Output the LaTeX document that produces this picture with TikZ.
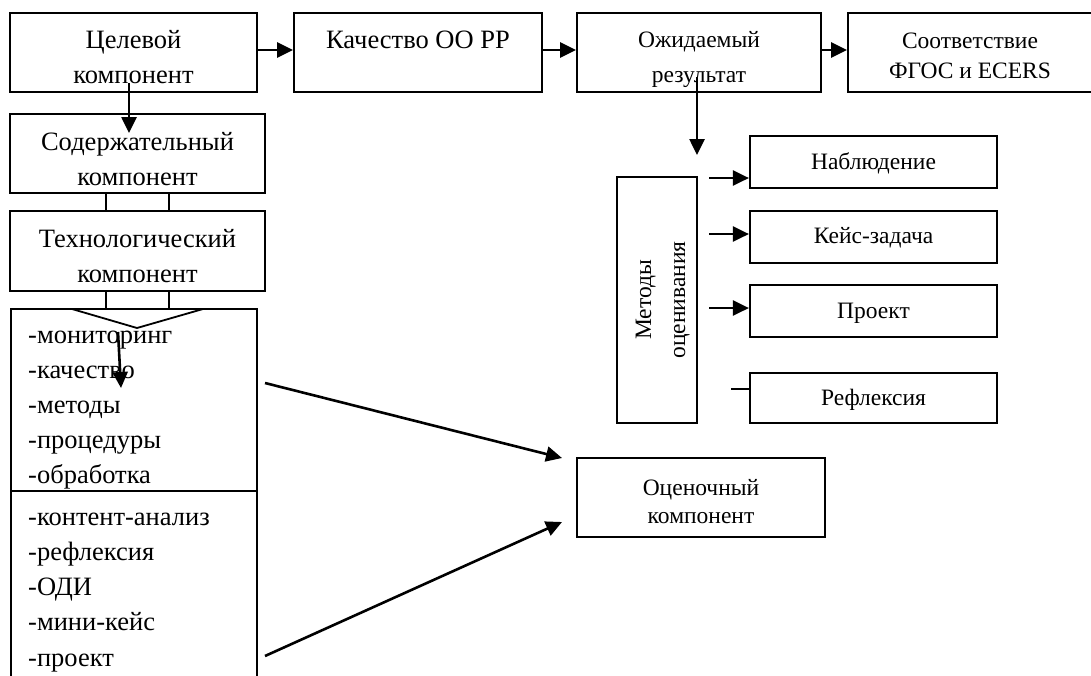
\documentclass[tikz,border=0pt]{standalone}
\usepackage{fontspec}
\setmainfont{Liberation Serif}
\usetikzlibrary{arrows.meta,fit}
\newcommand\fbig{\fontsize{26.5}{30}\selectfont}
\newcommand\fsmall{\fontsize{23.5}{28}\selectfont}
\begin{document}
\begin{tikzpicture}[x=1pt,y=-1pt,
  box/.style={draw, line width=1.8pt, inner sep=0pt},
  rbox/.style={draw, line width=2.2pt, inner sep=0pt},
  txt/.style={inner sep=0pt, anchor=base},
  ltxt/.style={inner sep=0pt, anchor=base west, font=\fbig},
  arr/.style={line width=2.6pt, -{Triangle[length=16pt,width=15pt]}},
  ln/.style={line width=1.8pt}]
\fill[white] (0,0) rectangle (1091,675);
\useasboundingbox (0,0) rectangle (1091,675);

% top row
\node[box, fit={(10,13) (257,92)}] (b1) {};
\node[box, fit={(294,13) (542,92)}] (b2) {};
\node[box, fit={(577,13) (821,92)}] (b3) {};
\node[box, fit={(848,13) (1094,92)}] (b4) {};
\node[txt, font=\fbig] (t1a) at (133.5,48) {Целевой};
\node[txt, font=\fbig] (t1b) at (133.5,83) {компонент};
\node[txt, font=\fbig] (t2a) at (418,48) {Качество ОО РР};
\node[txt, font=\fsmall] (t3a) at (699,47) {Ожидаемый};
\node[txt, font=\fsmall] (t3b) at (699,82) {результат};
\node[txt, font=\fsmall] (t4a) at (970,48) {Соответствие};
\node[txt, font=\fsmall] (t4b) at (970,78) {ФГОС и ECERS};

\draw[arr] ([yshift=2.5pt]b1.east) -- ([yshift=2.5pt]b2.west);
\draw[arr] ([yshift=2.5pt]b2.east) -- ([yshift=2.5pt]b3.west);
\draw[arr] ([yshift=2.5pt]b3.east) -- ([yshift=2.5pt]b4.west);

% left column
\node[box, fit={(10,114) (265,193)}] (s1) {};
\node[box, fit={(10,211) (265,291)}] (s2) {};
\node[box, fit={(11,309) (257,491)}] (l1) {};
\node[box, fit={(11,491) (257,700)}] (l2) {};
\node[txt, font=\fbig] (s1a) at (137.5,150) {Содержательный};
\node[txt, font=\fbig] (s1b) at (137.5,185) {компонент};
\node[txt, font=\fbig] (s2a) at (137.5,247) {Технологический};
\node[txt, font=\fbig] (s2b) at (137.5,282) {компонент};

\coordinate (c1s) at (129,83);
\coordinate (c1e) at (129,133);
\draw[arr] (c1s) -- (c1e);

% block arrow outline between the boxes
\draw[ln] (106,193) -- (106,211) (169,193) -- (169,211);
\draw[ln] (106,291) -- (106,309) (169,291) -- (169,309);
\draw[ln] (72,309) -- (137,328) -- (203,309);

\node[ltxt] (i1) at (28,343) {-мониторинг};
\node[ltxt] (i2) at (28,378) {-качество};
\node[ltxt] (i3) at (28,413) {-методы};
\node[ltxt] (i4) at (28,448) {-процедуры};
\node[ltxt] (i5) at (28,483) {-обработка};
\node[ltxt] (j1) at (28,525) {-контент-анализ};
\node[ltxt] (j2) at (28,560) {-рефлексия};
\node[ltxt] (j3) at (28,595) {-ОДИ};
\node[ltxt] (j4) at (28,630) {-мини-кейс};
\node[ltxt] (j5) at (28,666) {-проект};

\coordinate (c2s) at (118,332);
\coordinate (c2e) at (121,388);
\draw[arr] (c2s) -- (c2e);

% evaluation component
\node[box, fit={(577,458) (825,537)}] (oc) {};
\node[txt, font=\fsmall] (oca) at (701,495) {Оценочный};
\node[txt, font=\fsmall] (ocb) at (701,523) {компонент};
\coordinate (c3s) at (265,383);
\coordinate (c3e) at (562,458);
\coordinate (c4s) at (265,656);
\coordinate (c4e) at (562,522);
\draw[arr] (c3s) -- (c3e);
\draw[arr] (c4s) -- (c4e);

% methods
\node[box, fit={(617,177) (697,423)}] (mt) {};
\node[txt, font=\fsmall, rotate=90] (mta) at (651,300) {Методы};
\node[txt, font=\fsmall, rotate=90] (mtb) at (685,300) {оценивания};
\coordinate (c5s) at (697,77);
\coordinate (c5e) at (697,155);
\draw[arr] (c5s) -- (c5e);

\node[rbox, fit={(750,136) (997,188)}] (r1) {};
\node[rbox, fit={(750,211) (997,263)}] (r2) {};
\node[rbox, fit={(750,285) (997,337)}] (r3) {};
\node[rbox, fit={(750,373) (997,423)}] (r4) {};
\node[txt, font=\fsmall] (r1t) at (873.5,169) {Наблюдение};
\node[txt, font=\fsmall] (r2t) at (873.5,243) {Кейс-задача};
\node[txt, font=\fsmall] (r3t) at (873.5,318) {Проект};
\node[txt, font=\fsmall] (r4t) at (873.5,405) {Рефлексия};

\coordinate (m1) at (709,178);
\coordinate (m2) at (709,234);
\coordinate (m3) at (709,308);
\coordinate (m4) at (731,389);
\draw[arr] (m1) -- (m1 -| r1.west);
\draw[arr] (m2) -- (m2 -| r2.west);
\draw[arr] (m3) -- (m3 -| r3.west);
\draw[line width=2.6pt] (m4) -- (m4 -| r4.west);
\end{tikzpicture}
\end{document}
